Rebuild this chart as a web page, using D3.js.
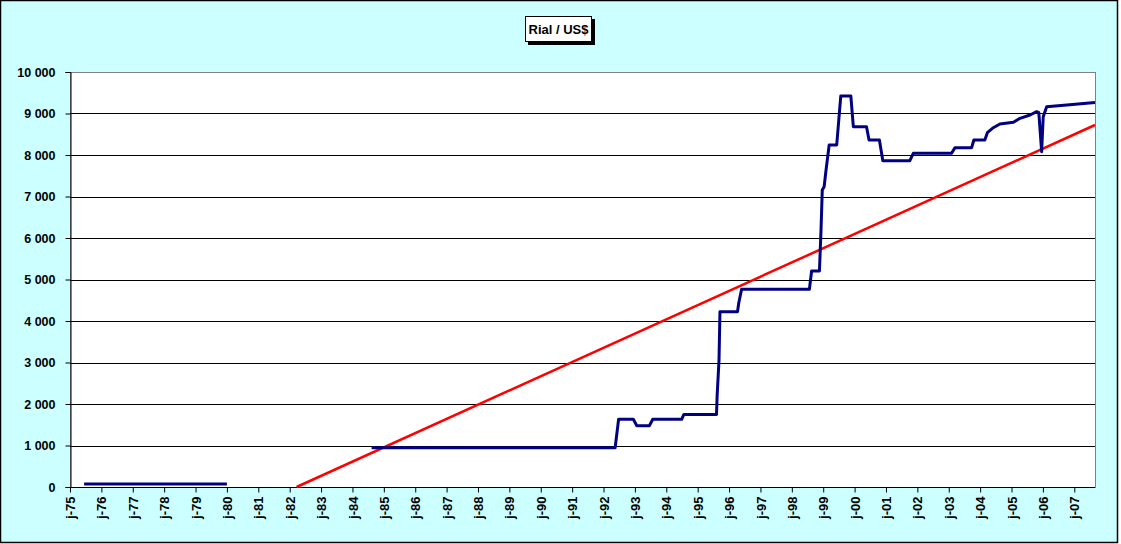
<!DOCTYPE html>
<html>
<head>
  <meta charset="utf-8">
  <title>Rial / US$</title>
  <style>
    body { margin: 0; background: #fff; }
    .lbl { font-family: "Liberation Sans", Arial, sans-serif; font-size: 12.5px; font-weight: bold; fill: #000; }
  </style>
  <script src="https://d3js.org/d3.v7.min.js"></script>
</head>
<body>
  <script>
    // decimal year of each reading, null marks the gap 1980-1984
    var rateYears = [1975.45, 1980.0, null,
      1984.61, 1992.37, 1992.48, 1992.95, 1993.06, 1993.46, 1993.57, 1994.49, 1994.56,
      1995.60, 1995.62, 1995.68, 1995.71, 1996.27, 1996.31, 1996.40, 1998.56, 1998.63,
      1998.88, 1998.93, 1998.97, 1999.03, 1999.09, 1999.19, 1999.43, 1999.56, 1999.88,
      1999.96, 2000.38, 2000.46, 2000.79, 2000.90, 2001.76, 2001.87, 2003.09, 2003.20,
      2003.73, 2003.80, 2004.15, 2004.23, 2004.42, 2004.63, 2005.06, 2005.27, 2005.59,
      2005.80, 2005.87, 2005.96, 2006.01, 2006.12, 2006.76, 2007.66];
    var rateValues = [70, 70, null,
      945, 945, 1631, 1631, 1477, 1477, 1631, 1631, 1750,
      1750, 2200, 3060, 4225, 4225, 4441, 4764, 4764, 5205,
      5205, 6193, 7157, 7236, 7639, 8241, 8241, 9422, 9422,
      8682, 8682, 8361, 8361, 7863, 7863, 8041, 8041, 8177,
      8177, 8361, 8361, 8538, 8658, 8747, 8788, 8884, 8964,
      9043, 9019, 8080, 8923, 9164, 9205, 9265];
    // trend line end points
    var trendYears = [1982.22, 2007.66];
    var trendValues = [0, 8723];
    var tickYears = d3.range(1975, 2008);
    var yTicks = [0, 1000, 2000, 3000, 4000, 5000, 6000, 7000, 8000, 9000, 10000];

    var W = 1121, H = 544;
    var m = {left: 70, top: 72, right: 1095, bottom: 487};

    var svg = d3.select('body').append('svg')
      .attr('width', W).attr('height', H);

    svg.append('rect')
      .attr('x', 0.5).attr('y', 0.5)
      .attr('width', 1117).attr('height', 542)
      .attr('fill', '#CCFFFF').attr('stroke', '#000').attr('stroke-width', 1.5);

    var x = d3.scaleLinear().domain([1975, 2007.66]).range([m.left, m.right]);
    var y = d3.scaleLinear().domain([0, 10000]).range([m.bottom, m.top]);

    svg.append('rect')
      .attr('x', m.left).attr('y', m.top)
      .attr('width', m.right - m.left).attr('height', m.bottom - m.top)
      .attr('fill', '#fff').attr('stroke', '#808080').attr('stroke-width', 1)
      .attr('shape-rendering', 'crispEdges');

    // gridlines
    svg.append('g').selectAll('line')
      .data(yTicks.filter(d => d > 0 && d < 10000))
      .enter().append('line')
      .attr('x1', m.left).attr('x2', m.right)
      .attr('y1', d => Math.round(y(d)) + 0.5).attr('y2', d => Math.round(y(d)) + 0.5)
      .attr('stroke', '#000').attr('stroke-width', 1);

    // y axis
    var yAxis = svg.append('g')
      .attr('transform', 'translate(' + (m.left + 0.5) + ',0)')
      .call(d3.axisLeft(y).tickValues(yTicks).tickSize(5).tickPadding(10)
        .tickFormat(d => d3.format(',')(d).replace(/,/g, ' ')));
    yAxis.selectAll('text').attr('class', 'lbl').attr('font-size', null).attr('font-family', null);
    yAxis.select('.domain').attr('stroke', '#000');

    // x axis
    var xAxis = svg.append('g')
      .attr('transform', 'translate(0,' + (m.bottom + 0.5) + ')')
      .call(d3.axisBottom(x).tickValues(tickYears).tickSize(5)
        .tickFormat(d => 'j-' + String(d).slice(2)));
    xAxis.select('.domain').attr('d', 'M' + m.left + ',0H' + m.right).attr('stroke', '#000');
    xAxis.selectAll('text')
      .attr('class', 'lbl').attr('font-size', null).attr('font-family', null)
      .style('font-size', '13px')
      .attr('text-anchor', 'end')
      .attr('transform', 'rotate(-90)')
      .attr('x', -9).attr('y', 0).attr('dy', '0.35em');

    // trend line
    var trend = trendYears.map((d, i) => [d, trendValues[i]]);
    svg.append('path')
      .datum(trend)
      .attr('d', d3.line().x(d => x(d[0])).y(d => y(d[1])))
      .attr('fill', 'none').attr('stroke', '#FF0000').attr('stroke-width', 2.5);

    // rate line
    var rate = rateYears.map((d, i) => [d, rateValues[i]]);
    svg.append('path')
      .datum(rate)
      .attr('d', d3.line().defined(d => d[0] != null).x(d => x(d[0])).y(d => y(d[1])))
      .attr('fill', 'none').attr('stroke', '#000080').attr('stroke-width', 3)
      .attr('stroke-linejoin', 'round');

    // title box with shadow
    svg.append('rect').attr('x', 528).attr('y', 19).attr('width', 67).attr('height', 26).attr('fill', '#000');
    svg.append('rect').attr('x', 525.5).attr('y', 16.5).attr('width', 66).attr('height', 25)
      .attr('fill', '#fff').attr('stroke', '#000').attr('stroke-width', 1);
    svg.append('text').attr('class', 'lbl').attr('x', 558.5).attr('y', 33.5)
      .attr('text-anchor', 'middle').style('font-size', '13px').text('Rial / US$');
  </script>
</body>
</html>
